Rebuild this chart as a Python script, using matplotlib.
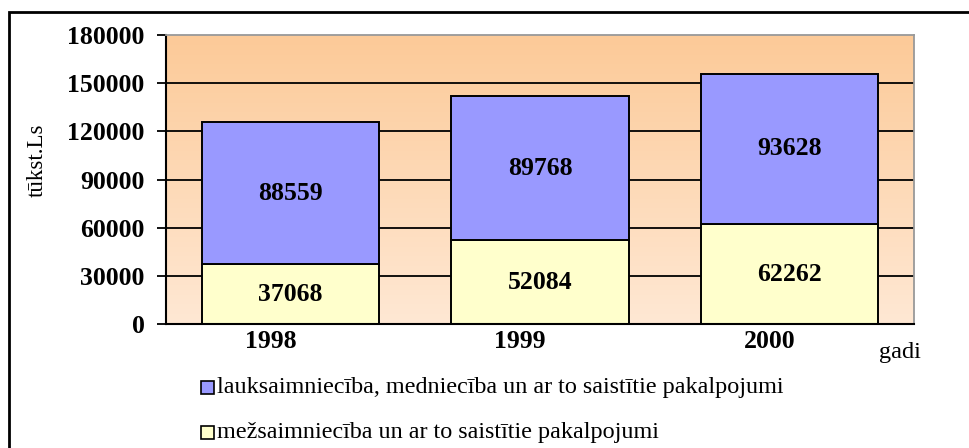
import numpy as np
import matplotlib
matplotlib.use("Agg")
import matplotlib.pyplot as plt
import matplotlib.transforms as mtransforms
from matplotlib.patches import Rectangle
from matplotlib.colors import LinearSegmentedColormap

plt.rcParams['font.family'] = ['Liberation Serif', 'DejaVu Serif']

years = ['1998', '1999', '2000']
mezs = [37068, 52084, 62262]
lauks = [88559, 89768, 93628]
yticks = [0, 30000, 60000, 90000, 120000, 150000, 180000]
lab_lauks = 'lauksaimniecība, medniecība un ar to saistītie pakalpojumi'
lab_mezs = 'mežsaimniecība un ar to saistītie pakalpojumi'

fig = plt.figure(figsize=(9.69, 4.48), dpi=100)
W, H = 969, 448
ax = fig.add_axes([166 / W, 1 - 324 / H, (914 - 166) / W, (324 - 35) / H])

# outer frame (runs off the right/bottom edge like the original)
fig.patches.append(Rectangle((8.5 / W, -0.2), 1.2, 1 - 12.5 / H + 0.2, transform=fig.transFigure,
                             fill=False, ec='black', lw=2.0))

# gradient background
cmap = LinearSegmentedColormap.from_list('bg', ['#FFE8D4', '#FCCA98'])
grad = np.linspace(0, 1, 256).reshape(-1, 1)
ax.imshow(grad, cmap=cmap, aspect='auto', origin='lower',
          extent=(-0.5, 2.5, 0, 180000), zorder=0)

for t in yticks[1:-1]:
    ax.axhline(t, color='black', lw=1.3, zorder=1)

x = np.arange(len(years))
w = 0.71
b1 = ax.bar(x, mezs, w, color='#FFFFCC', edgecolor='black', lw=1.4, zorder=2)
b2 = ax.bar(x, lauks, w, bottom=mezs, color='#9999FF', edgecolor='black', lw=1.4, zorder=2)

for i in range(len(years)):
    ax.text(x[i], mezs[i] / 2, str(mezs[i]), ha='center', va='center',
            fontsize=18.5, fontweight='bold', zorder=3)
    ax.text(x[i], mezs[i] + lauks[i] / 2, str(lauks[i]), ha='center', va='center',
            fontsize=18.5, fontweight='bold', zorder=3)

ax.set_xlim(-0.5, 2.5)
ax.set_ylim(0, 180000)
ax.set_yticks(yticks)
ax.set_yticklabels([str(t) for t in yticks], fontsize=18.5, fontweight='bold')
ax.set_xticks(x)
ax.set_xticklabels(years, fontsize=18.5, fontweight='bold')
ax.tick_params(axis='x', length=0, pad=4)
ax.tick_params(axis='y', length=6.5, width=1.3, pad=9)
shift = mtransforms.ScaledTranslation(-0.20, 0, fig.dpi_scale_trans)
for lbl in ax.get_xticklabels():
    lbl.set_transform(lbl.get_transform() + shift)
for s in ['top', 'right']:
    ax.spines[s].set_color('#999999')
    ax.spines[s].set_linewidth(1.3)
for s in ['left', 'bottom']:
    ax.spines[s].set_color('black')
    ax.spines[s].set_linewidth(1.5)

fig.text(37 / W, 1 - 160 / H, 'tūkst.Ls', rotation=90, ha='center', va='center', fontsize=16.5)
fig.text(900 / W, 1 - 352 / H, 'gadi', ha='center', va='center', fontsize=17.5)

# legend
fig.patches.append(Rectangle((201 / W, 1 - 394 / H), 13 / W, 13 / H, transform=fig.transFigure,
                             fc='#9999FF', ec='black', lw=1.2))
fig.patches.append(Rectangle((201 / W, 1 - 439 / H), 13 / W, 13 / H, transform=fig.transFigure,
                             fc='#FFFFCC', ec='black', lw=1.2))
fig.text(217 / W, 1 - 387 / H, lab_lauks, ha='left', va='center', fontsize=17.4)
fig.text(217 / W, 1 - 432 / H, lab_mezs, ha='left', va='center', fontsize=17.4)

fig.savefig('out.png', dpi=100)
